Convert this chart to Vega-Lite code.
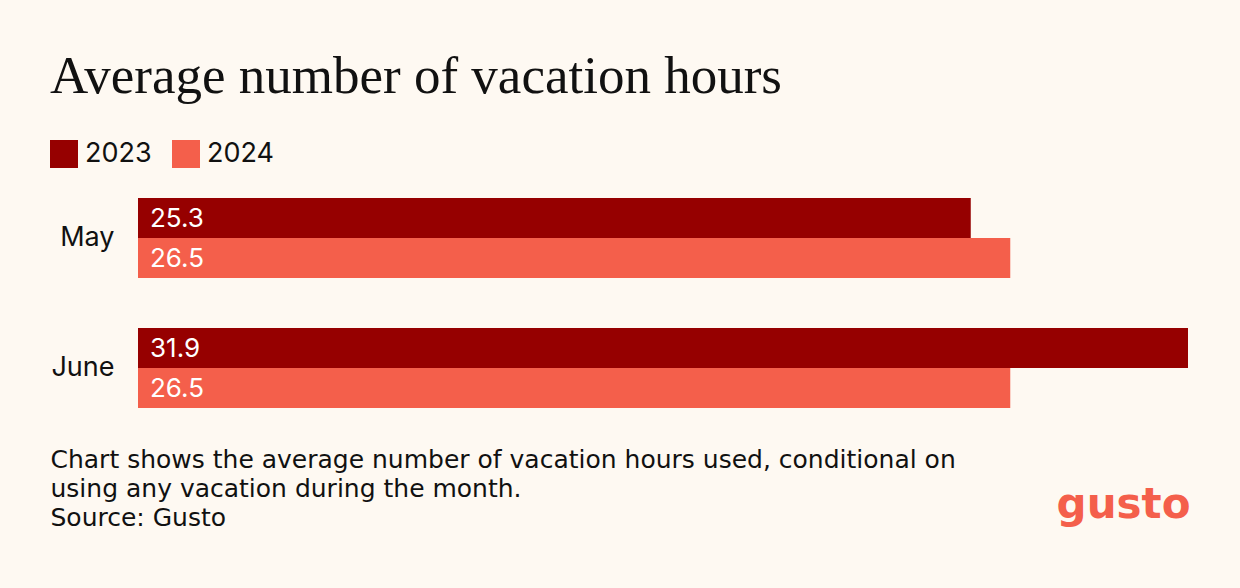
{
  "$schema": "https://vega.github.io/schema/vega-lite/v6.json",
  "autosize": {"type": "none"},
  "padding": {"left": 138, "top": 173, "right": 52, "bottom": 155},
  "width": 1050,
  "height": 260,
  "background": "#fef9f2",
  "config": {
    "view": {"stroke": null},
    "font": "Inter"
  },
  "title": {
    "text": "Average number of vacation hours",
    "font": "Liberation Serif",
    "fontSize": 53,
    "fontWeight": "normal",
    "color": "#111111",
    "anchor": "start",
    "frame": "group",
    "dx": -88,
    "offset": 36
  },
  "data": {
    "values": [
      {"month": "May", "year": "2023", "hours": 25.3},
      {"month": "May", "year": "2024", "hours": 26.5},
      {"month": "June", "year": "2023", "hours": 31.9},
      {"month": "June", "year": "2024", "hours": 26.5}
    ]
  },
  "encoding": {
    "y": {
      "field": "month",
      "type": "nominal",
      "sort": ["May", "June"],
      "scale": {"paddingInner": 0.3846, "paddingOuter": 0.1923},
      "axis": {
        "title": null,
        "domain": false,
        "ticks": false,
        "labelPadding": 24,
        "labelFont": "Inter",
        "labelFontSize": 27,
        "labelColor": "#111111"
      }
    },
    "yOffset": {
      "field": "year",
      "type": "nominal",
      "scale": {"paddingInner": 0, "paddingOuter": 0}
    }
  },
  "layer": [
    {
      "mark": {"type": "bar", "cornerRadius": 0},
      "encoding": {
        "x": {
          "field": "hours",
          "type": "quantitative",
          "scale": {"domain": [0, 31.9], "nice": false, "zero": true},
          "axis": {
            "orient": "bottom",
            "grid": false,
            "domain": false,
            "ticks": false,
            "labels": false,
            "title": [
              "Chart shows the average number of vacation hours used, conditional on",
              "using any vacation during the month.",
              "Source: Gusto"
            ],
            "titleFont": "DejaVu Sans",
            "titleFontSize": 25,
            "titleFontWeight": "normal",
            "titleColor": "#111111",
            "titleAlign": "left",
            "titleAnchor": "start",
            "titleBaseline": "alphabetic",
            "titleLineHeight": 29,
            "titleX": -88,
            "titleY": 34
          }
        },
        "color": {
          "field": "year",
          "type": "nominal",
          "scale": {"domain": ["2023", "2024"], "range": ["#960000", "#f45f4b"]},
          "legend": {
            "orient": "none",
            "legendX": -88,
            "legendY": -33,
            "direction": "horizontal",
            "title": null,
            "padding": 0,
            "symbolType": "square",
            "symbolSize": 784,
            "symbolStrokeWidth": 0,
            "symbolOpacity": 1,
            "labelFont": "Inter",
            "labelFontSize": 27,
            "labelColor": "#111111",
            "labelOffset": 7,
            "columnPadding": 20
          }
        }
      }
    },
    {
      "mark": {
        "type": "text",
        "align": "left",
        "baseline": "middle",
        "dx": 12,
        "dy": 1,
        "font": "Inter",
        "fontSize": 26,
        "color": "#ffffff"
      },
      "encoding": {
        "x": {
          "datum": 0,
          "type": "quantitative",
          "scale": {"domain": [0, 31.9], "nice": false},
          "axis": {
            "orient": "bottom",
            "grid": false,
            "domain": false,
            "ticks": false,
            "labels": false,
            "title": "gusto",
            "titleFont": "DejaVu Sans",
            "titleFontSize": 42,
            "titleFontWeight": "bold",
            "titleColor": "#f45f4b",
            "titleAlign": "right",
            "titleAnchor": "end",
            "titleBaseline": "alphabetic",
            "titleX": 1052,
            "titleY": 84
          }
        },
        "text": {"field": "hours", "type": "quantitative", "format": ".1f"}
      }
    }
  ],
  "resolve": {"scale": {"x": "independent"}, "axis": {"x": "independent"}}
}
